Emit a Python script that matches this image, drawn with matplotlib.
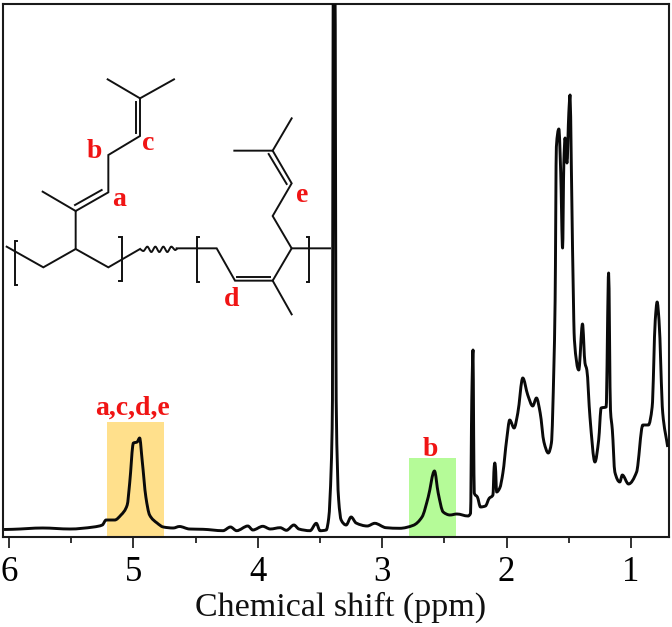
import matplotlib
matplotlib.use("Agg")
import matplotlib.pyplot as plt
import numpy as np
from matplotlib.patches import Rectangle, PathPatch
from matplotlib.path import Path

plt.rcParams['font.family'] = ['Liberation Serif', 'DejaVu Serif']

W, H = 672, 627

ppm = [6.04,5.97,5.73,5.51,5.32,5.25,5.22,5.15,5.10,5.05,5.03,5.00,4.97,4.95,4.93,4.90,4.87,4.81,4.76,4.68,4.63,4.55,4.44,4.28,4.22,4.17,
       4.08,4.04,3.96,3.90,3.82,3.77,3.71,3.67,3.58,3.53,3.50,3.45,3.43,3.41,3.40,3.394,3.380,3.37,3.35,3.33,3.29,3.25,3.21,3.12,3.06,2.97,2.86,2.75,2.68,2.63,2.58,2.55,2.51,2.455,2.40,2.31,
       2.29,2.28,2.27,2.265,2.26,2.235,2.21,2.17,2.14,2.11,2.10,2.095,2.09,2.08,2.055,2.03,2.00,1.975,1.94,1.91,1.87,1.83,1.79,1.76,1.73,1.70,1.665,1.64,1.62,1.61,
       1.60,1.58,1.565,1.55,1.54,1.53,1.515,1.50,1.49,1.48,1.46,1.455,1.42,1.39,1.37,1.355,1.33,1.29,1.26,1.24,1.20,1.18,1.165,1.15,1.13,1.09,1.07,1.02,0.955,0.905,0.86,0.83,0.805,0.79,0.775,0.745,0.705]
intensity = [6.5,6.7,8,7,9,11,16,16,21,31,53,93,94,98,76,39,21,13,9,8,9.5,7,6.7,5.3,9,5.3,
             10,6,9.7,7,8.3,5.7,11,7,5.3,12.7,5.3,6,18,69,136,560,560,136,36,16,11,19,13,10,12.7,8.3,7.7,10.7,19,39,65,43,24,21,22,20,
             22.7,136,186,103,43,39,29,30,37.7,41,69,73,69,44,48,63,96,116,108,123,158,141,130,138,123,94,83,93,169,236,
             389,407,363,288,373,398,373,423,441,373,216,196,166,212,173,166,119,74,96,128,129,263,126,106,64,54,61,52,64,111,111,129,216,234,216,123,89]

major_ticks = [6, 5, 4, 3, 2, 1]
minor_ticks = [5.5, 4.5, 3.5, 2.5, 1.5]
xlabel = "Chemical shift (ppm)"
band_orange = (5.21, 4.755, 114.5)
band_green = (2.785, 2.405, 78.5)


def smooth_path(xs, ys):
    """Cubic path through the given points, with monotone (PCHIP-style) tangents."""
    x = np.asarray(xs, float); y = np.asarray(ys, float)
    h = np.diff(x); d = np.diff(y) / h
    m = np.zeros_like(y)
    m[0], m[-1] = d[0], d[-1]
    for i in range(1, len(x) - 1):
        if d[i-1] * d[i] > 0:
            w1 = 2*h[i] + h[i-1]; w2 = h[i] + 2*h[i-1]
            m[i] = (w1 + w2) / (w1/d[i-1] + w2/d[i])
    verts = [(x[0], y[0])]; codes = [Path.MOVETO]
    for i in range(len(h)):
        verts += [(x[i] + h[i]/3, y[i] + m[i]*h[i]/3),
                  (x[i+1] - h[i]/3, y[i+1] - m[i+1]*h[i]/3),
                  (x[i+1], y[i+1])]
        codes += [Path.CURVE4]*3
    return Path(verts, codes)


fig = plt.figure(figsize=(W/100, H/100), dpi=100)
ax = fig.add_axes([3.3/W, 1-536.5/H, (668.7-3.3)/W, 533/H])
ax.set_xlim(6.046, 0.697)
ax.set_ylim(-0.5, 532.5)
for (a, b, h), c in [(band_orange, '#FFE08C'), (band_green, '#B5FB98')]:
    ax.add_patch(Rectangle((b, 0), a-b, h, fc=c, ec='none', zorder=1))
ax.add_patch(PathPatch(smooth_path(ppm, intensity), fc='none', ec='#0a0a0a', lw=2.1,
                       joinstyle='round', zorder=3))
ax.set_xticks(major_ticks)
ax.set_xticks(minor_ticks, minor=True)
ax.set_yticks([])
ax.tick_params(axis='x', which='major', length=8, width=1.3, labelsize=25, pad=6, color='#222222')
ax.tick_params(axis='x', which='minor', length=4.5, width=1.3, color='#222222')
for s in ax.spines.values():
    s.set_linewidth(1.5)
    s.set_color('#1a1a1a')

ov = fig.add_axes([0, 0, 1, 1], facecolor='none')
ov.set_xlim(0, W); ov.set_ylim(H, 0); ov.axis('off')

ov.text(340.5, 616, xlabel, fontsize=24.5, ha='center', va='baseline', color='#111111')

bonds = [
    [(20,650),(130,712),(227,657),(325,712),(420,657)],
    [(530,655),(650,655),(705,752),(818,752),(875,655),(990,655)],
    [(712,740),(810,740)],
    [(818,752),(875,853)],
    [(227,657),(227,543),(325,487),(325,375),(420,318),(420,205),(323,148)],
    [(420,205),(522,148)],
    [(227,543),(128,485)],
    [(225,525),(305,480)],
    [(408,310),(408,215)],
    [(875,655),(818,558),(875,460),(818,362),(703,362)],
    [(818,362),(875,265)],
    [(860,462),(806,372)],
    [(52,632),(45,632),(45,765),(52,765)],
    [(358,620),(366,620),(366,752),(358,752)],
    [(598,622),(590,622),(590,757),(598,757)],
    [(920,622),(928,622),(928,757),(920,757)],
]
for b in bonds:
    ov.plot([p[0]/3 for p in b], [30+p[1]/3 for p in b], color='#111111', lw=1.4, solid_joinstyle='miter')

wave_x = [420,430,442,454,466,478,490,502,514,526,532]
wave_y = [657,663,650,666,650,666,650,666,650,660,655]
ov.add_patch(PathPatch(smooth_path([v/3 for v in wave_x], [30+v/3 for v in wave_y]),
                       fc='none', ec='#111111', lw=1.4))

labels = [("a",119,200),("b",94,151),("c",148,144),("d",232,300),("e",302,195),("a,c,d,e",132,408),("b",430,450)]
for t, x, y in labels:
    ov.text(x, y, t, color='#F01414', fontweight='bold', fontsize=20, ha='center', va='center')

fig.savefig("out.png", dpi=100)
